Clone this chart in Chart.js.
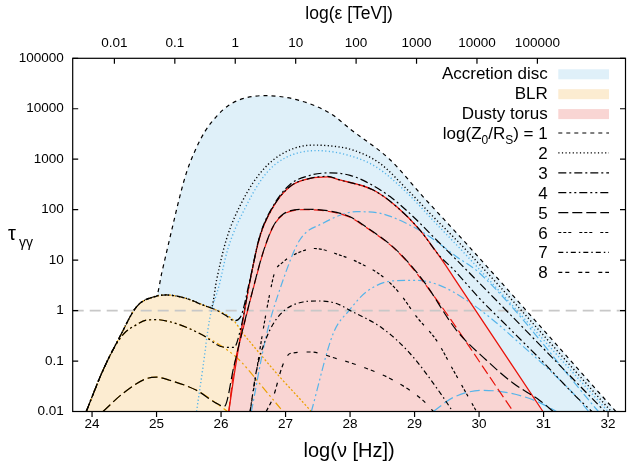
<!DOCTYPE html>
<html>
<head>
<meta charset="utf-8">
<script src="https://cdn.jsdelivr.net/npm/chart.js@4.4.1/dist/chart.umd.min.js"></script>
<style>html,body{margin:0;padding:0;background:#fff}</style>
</head>
<body>
<canvas id="c" width="627" height="463"></canvas>
<script>
// log10(nu/Hz) and tau values
// totals, one curve per log(Z0/RS)
const nuZ1 = [23.91,24.17,24.43,24.69,24.95,25.0,25.08,25.15,25.26,25.36,25.46,25.59,25.75,25.93,26.1,26.29,26.65,27.17,27.69,28.02,28.62,29.13,29.8,32.12];
const tauZ1 = [0.01,0.066,0.302,1.19,1.86,1.95,5.5,13.5,53.7,182,525,1413,3548,7079,11220,15136,18197,15136,8128,3802,977,182,21.4,0.01];
const nuZ2 = [23.91,24.17,24.43,24.69,24.95,25.15,25.46,25.72,25.85,25.93,26.08,26.34,26.65,27.01,27.43,27.79,28.05,28.46,28.87,29.29,29.8,32.05];
const tauZ2 = [0.01,0.066,0.302,1.19,1.86,2.04,1.74,1.29,1.15,3.98,25.1,155,617,1413,1905,1778,1514,832,263,72.4,15.8,0.01];
const nuZ3 = [23.91,24.17,24.43,24.69,24.95,25.15,25.46,25.72,25.93,26.1,26.2,26.3,26.45,26.6,26.81,27.07,27.38,27.7,28.0,28.25,28.62,28.98,29.34,29.7,31.95];
const tauZ3 = [0.01,0.066,0.302,1.19,1.86,2.04,1.74,1.29,1.02,0.759,0.631,0.741,4.27,30.2,120,316,479,537,479,355,182,72.4,25.1,8.71,0.01];
const nuZ4 = [23.91,24.17,24.35,24.5,24.69,24.84,25.0,25.2,25.46,25.72,26.03,26.2,26.3,26.45,26.6,26.81,27.07,27.38,27.65,27.84,28.36,28.72,29.08,29.39,29.6,30.0,30.5,31.0,31.5,31.75];
const tauZ4 = [0.01,0.066,0.19,0.355,0.525,0.646,0.661,0.603,0.468,0.324,0.19,0.186,0.417,3.98,28.8,115,288,417,457,389,245,115,39.8,12.0,6.61,1.78,0.407,0.0933,0.02,0.01];
const nuZ5 = [24.17,24.48,24.84,25.0,25.2,25.62,25.93,26.05,26.2,26.35,26.5,26.65,26.8,26.95,27.3,27.65,28.0,28.2,28.72,29.13,29.65,30.11,30.53,30.94,31.15];
const tauZ5 = [0.01,0.0229,0.0447,0.0479,0.0417,0.0263,0.0145,0.0126,0.0794,0.501,2.82,14.1,44.7,79.4,102,95.5,72.4,50.1,15.8,3.98,0.407,0.105,0.0363,0.0166,0.01];
const nuZ6 = [26.45,26.55,26.65,26.75,26.83,26.96,27.2,27.45,27.84,28.15,28.51,28.77,29.03,29.34,29.6,29.96];
const tauZ6 = [0.01,0.0631,0.398,2.0,5.62,9.12,14.1,17.0,12.6,8.71,4.68,2.19,0.759,0.257,0.066,0.01];
const nuZ7 = [26.45,26.55,26.7,26.9,27.27,27.5,27.79,27.99,28.5,28.93,29.44,29.59];
const tauZ7 = [0.01,0.066,0.282,0.794,1.48,1.55,1.38,1.02,0.447,0.141,0.0195,0.01];
const nuZ8 = [26.7,26.81,26.95,27.07,27.38,27.79,28.2,28.67,29.13,29.29];
const tauZ8 = [0.01,0.0195,0.079,0.141,0.151,0.112,0.0759,0.0417,0.0166,0.01];

// components: accretion disc, BLR, dusty torus
const nuAD2 = [25.62,25.72,25.82,25.97,26.1,26.4,26.7,27.0,27.48,27.94,28.4,28.87,29.3,29.8,32.0];
const tauAD2 = [0.01,0.0759,0.646,3.16,15.8,126,525,1072,1479,1230,708,224,58.9,12.6,0.01];
const nuAD3 = [26.47,26.7,26.96,27.22,27.58,28.1,28.46,28.87,29.24,29.65,30.01,31.85];
const tauAD3 = [0.01,0.316,3.98,25.1,53.7,91.2,85.1,53.7,28.8,11.7,5.5,0.01];
const nuAD4 = [27.4,27.74,27.99,28.25,28.67,29.03,29.39,29.8,30.22,30.63,31.15,31.51,31.7];
const tauAD4 = [0.01,0.355,1.02,2.34,3.89,3.98,3.16,1.62,0.646,0.224,0.0562,0.0195,0.01];
const nuAD5 = [29.29,29.6,30.06,30.5,30.9,31.2];
const tauAD5 = [0.01,0.019,0.0263,0.0229,0.0158,0.01];
const nuBLR = [23.91,24.17,24.43,24.69,24.95,25.15,25.46,25.72,25.93,26.19,26.34,26.6,26.9,27.15,27.4];
const tauBLR = [0.01,0.066,0.302,1.19,1.86,2.04,1.74,1.29,1.02,0.646,0.355,0.141,0.05,0.0224,0.01];
const nuBLR4 = [23.91,24.17,24.35,24.5,24.69,24.84,25.0,25.2,25.46,25.72,26.03,26.3,26.6,26.96];
const tauBLR4 = [0.01,0.066,0.19,0.355,0.525,0.646,0.661,0.603,0.468,0.324,0.19,0.1,0.0355,0.01];
const nuBLR5 = [24.17,24.48,24.84,25.0,25.2,25.62,25.93,26.1];
const tauBLR5 = [0.01,0.0229,0.0447,0.0479,0.0417,0.0263,0.0145,0.01];
const nuDT = [26.12,26.2,26.3,26.45,26.6,26.81,27.07,27.38,27.65,27.84,28.36,28.72,29.08,29.39,29.6,30.99];
const tauDT = [0.01,0.05,0.316,3.98,28.8,115,288,417,447,389,245,115,39.8,11.7,4.68,0.01];
const nuDT5 = [26.12,26.2,26.35,26.5,26.65,26.8,26.95,27.3,27.65,28.0,28.2,28.72,29.13,30.53];
const tauDT5 = [0.01,0.07,0.48,2.75,13.8,43.7,77.6,100,93.3,70.8,49,15.5,3.8,0.01];

const refNu = [23.7, 32.27];
const refTau = [1, 1];

// ticks and labels
const xTicks = [24,25,26,27,28,29,30,31,32];
const topTicks = [-2,-1,0,1,2,3,4,5];
const topTickLabels = ['0.01','0.1','1','10','100','1000','10000','100000'];
const yTicks = [0.01,0.1,1,10,100,1000,10000,100000];
const yTickLabels = ['0.01','0.1','1','10','100','1000','10000','100000'];
const keyLabels = ['Accretion disc','BLR','Dusty torus'];
const zLabels = ['1','2','3','4','5','6','7','8'];

const FONT = '"Liberation Sans", Arial, sans-serif';
const adFill = '#dff0f9', blrFill = '#fcecd1', dtFill = '#f9d5d3';
const blue = '#56b4e9', orange = '#eba000', red = '#e8140c';
const zDash = [[4,4],[1.2,2.4],[8,3,2,3],[8,3,2,3,2,3],[10,4],[3,2,3,2,3,8],[5,3,1.5,3],[4,3,4,9]];

function pts(nu, tau) { return nu.map((x, i) => ({x: x, y: tau[i]})); }

function line(nu, tau, color, dash, width) {
  return {data: pts(nu, tau), borderColor: color, borderDash: dash, borderWidth: width || 1.2,
    pointRadius: 0, fill: false, cubicInterpolationMode: 'monotone'};
}
function area(nu, tau, color) {
  return {data: pts(nu, tau), backgroundColor: color, borderColor: 'rgba(0,0,0,0)', borderWidth: 0,
    pointRadius: 0, fill: 'start', cubicInterpolationMode: 'monotone'};
}

const datasets = [
  area(nuDT, tauDT, dtFill),
  area(nuBLR, tauBLR, blrFill),
  area(nuZ1, tauZ1, adFill),
  line(nuZ1, tauZ1, '#000', zDash[0]),
  line(nuZ2, tauZ2, '#000', zDash[1], 1.4),
  line(nuZ3, tauZ3, '#000', zDash[2]),
  line(nuZ4, tauZ4, '#000', zDash[3]),
  line(nuZ5, tauZ5, '#000', zDash[4]),
  line(nuZ6, tauZ6, '#000', zDash[5]),
  line(nuZ7, tauZ7, '#000', zDash[6]),
  line(nuZ8, tauZ8, '#000', zDash[7]),
  line(nuDT5, tauDT5, red, zDash[4]),
  line(nuDT, tauDT, red, [], 1.3),
  line(nuAD2, tauAD2, blue, zDash[1], 1.4),
  line(nuAD3, tauAD3, blue, zDash[2]),
  line(nuAD4, tauAD4, blue, zDash[3]),
  line(nuAD5, tauAD5, blue, zDash[4]),
  line(nuBLR, tauBLR, orange, [2,2], 1.3),
  line(nuBLR4, tauBLR4, orange, zDash[3]),
  line(nuBLR5, tauBLR5, orange, zDash[4]),
  line(refNu, refTau, '#c8c8c8', [11,6], 1.6)
];

// box, inward ticks, key and the tau label
const frame = {
  id: 'frame',
  afterDraw(chart) {
    const ctx = chart.ctx, a = chart.chartArea, s = chart.scales;
    ctx.save();
    ctx.setLineDash([]);
    ctx.strokeStyle = '#000';
    ctx.lineWidth = 1.2;
    ctx.strokeRect(a.left, a.top, a.right - a.left, a.bottom - a.top);
    ctx.beginPath();
    yTicks.forEach(v => {
      const y = s.y.getPixelForValue(v);
      ctx.moveTo(a.left, y); ctx.lineTo(a.left + 5.5, y);
      ctx.moveTo(a.right, y); ctx.lineTo(a.right - 5.5, y);
    });
    xTicks.forEach(v => {
      const x = s.x.getPixelForValue(v);
      ctx.moveTo(x, a.bottom); ctx.lineTo(x, a.bottom + 5.5);
    });
    topTicks.forEach(v => {
      const x = s.x2.getPixelForValue(v);
      ctx.moveTo(x, a.top); ctx.lineTo(x, a.top + 5.5);
    });
    ctx.stroke();

    ctx.fillStyle = '#000';
    ctx.textBaseline = 'alphabetic';
    ctx.textAlign = 'left';
    ctx.font = '20px ' + FONT;
    ctx.fillText('τ', 8, 240);
    ctx.font = '14px ' + FONT;
    ctx.fillText('γγ', 19, 247);

    // key
    const keyRight = 547.7, sL = 558.3, sR = 609, base = 79.3, gap = 19.9;
    const main = '17px ' + FONT, sub = '12px ' + FONT;
    ctx.textAlign = 'right';
    keyLabels.forEach((t, i) => {
      const yb = base + i * gap;
      ctx.font = main;
      ctx.fillStyle = '#000';
      ctx.fillText(t, keyRight, yb);
      ctx.fillStyle = [adFill, blrFill, dtFill][i];
      ctx.fillRect(sL, yb - 10, sR - sL, 10);
    });
    ctx.fillStyle = '#000';
    zLabels.forEach((t, i) => {
      const yb = base + (i + 3) * gap;
      if (i === 0) {
        const parts = [['log(Z', main, 0], ['0', sub, 5], ['/R', main, 0], ['S', sub, 5], [') = ' + t, main, 0]];
        let w = 0;
        parts.forEach(p => { ctx.font = p[1]; w += ctx.measureText(p[0]).width; });
        let x = keyRight - w;
        ctx.textAlign = 'left';
        parts.forEach(p => { ctx.font = p[1]; ctx.fillText(p[0], x, yb + p[2]); x += ctx.measureText(p[0]).width; });
        ctx.textAlign = 'right';
      } else {
        ctx.font = main;
        ctx.fillText(t, keyRight, yb);
      }
      ctx.setLineDash(zDash[i]);
      ctx.lineWidth = i === 1 ? 1.4 : 1.2;
      ctx.beginPath();
      ctx.moveTo(sL, yb - 6); ctx.lineTo(sR, yb - 6);
      ctx.stroke();
    });
    ctx.restore();
  }
};

Chart.defaults.font.family = FONT;
Chart.defaults.color = '#000';

const axisBase = {grid: {display: false, drawTicks: false}, border: {display: false}};

new Chart(document.getElementById('c'), {
  type: 'line',
  data: {datasets: datasets},
  options: {
    responsive: false,
    animation: false,
    layout: {padding: {right: 1.5}},
    plugins: {legend: {display: false}, tooltip: {enabled: false}, filler: {drawTime: 'beforeDatasetsDraw'}},
    scales: {
      x: Object.assign({}, axisBase, {
        type: 'linear', position: 'bottom', min: 23.7, max: 32.27,
        afterBuildTicks: sc => { sc.ticks = xTicks.map(v => ({value: v})); },
        afterFit: sc => { sc.height = 51.5; },
        ticks: {padding: 5, autoSkip: false, maxRotation: 0, font: {size: 13.5}, callback: v => String(v)},
        title: {display: true, text: 'log(ν [Hz])', font: {size: 20}, padding: {top: 0, bottom: 0}}
      }),
      x2: Object.assign({}, axisBase, {
        type: 'linear', position: 'top', min: -2.69, max: 6.458,
        afterBuildTicks: sc => { sc.ticks = topTicks.map(v => ({value: v})); },
        afterFit: sc => { sc.height = 58.3; },
        ticks: {padding: 6.5, autoSkip: false, maxRotation: 0, font: {size: 13.5}, callback: (v, i) => topTickLabels[i]},
        title: {display: true, text: 'log(ε [TeV])', font: {size: 17.5}, padding: {top: 4, bottom: 0}}
      }),
      y: Object.assign({}, axisBase, {
        type: 'logarithmic', position: 'left', min: 0.01, max: 100000,
        afterBuildTicks: sc => { sc.ticks = yTicks.map(v => ({value: v})); },
        afterFit: sc => { sc.width = 72.7; },
        ticks: {padding: 9, autoSkip: false, font: {size: 13.5}, callback: (v, i) => yTickLabels[i]}
      })
    }
  },
  plugins: [frame]
});
</script>
</body>
</html>
